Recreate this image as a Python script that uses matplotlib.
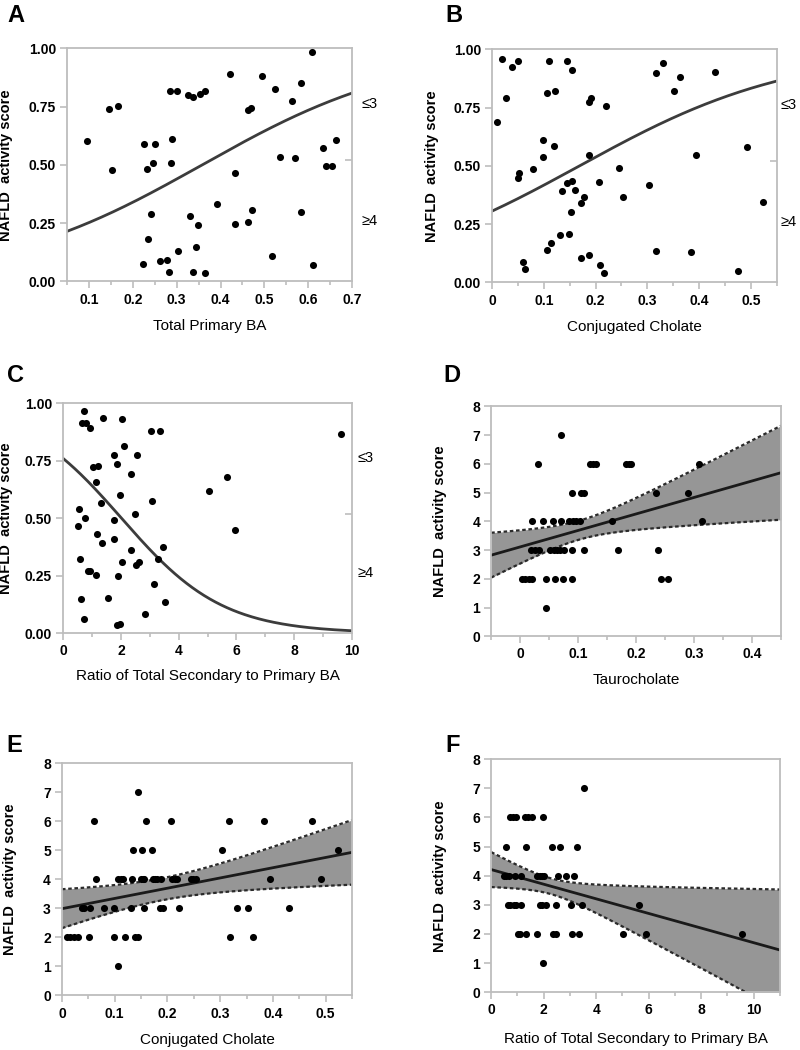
import numpy as np
import matplotlib
matplotlib.use('Agg')
import matplotlib.pyplot as plt
from matplotlib.ticker import MultipleLocator, FuncFormatter

plt.rcParams['font.family'] = ['Liberation Sans', 'DejaVu Sans']

#####################################################################
# data

# A : Total Primary BA (y is the jittered position of each patient)
a_x = [0.096, 0.145, 0.166, 0.152, 0.225, 0.250, 0.231, 0.246, 0.241, 0.235,
       0.222, 0.261, 0.277, 0.283, 0.302, 0.284, 0.300, 0.290, 0.287, 0.325,
       0.337, 0.352, 0.365, 0.330, 0.348, 0.345, 0.336, 0.365, 0.392, 0.422,
       0.433, 0.432, 0.462, 0.470, 0.472, 0.463, 0.494, 0.525, 0.535, 0.518,
       0.564, 0.569, 0.584, 0.583, 0.608, 0.612, 0.633, 0.640, 0.655, 0.664]
a_y = [0.602, 0.741, 0.751, 0.480, 0.589, 0.590, 0.481, 0.506, 0.289, 0.183,
       0.073, 0.087, 0.093, 0.042, 0.130, 0.818, 0.817, 0.610, 0.509, 0.801,
       0.789, 0.804, 0.818, 0.279, 0.244, 0.146, 0.040, 0.036, 0.331, 0.890,
       0.466, 0.248, 0.736, 0.746, 0.305, 0.255, 0.881, 0.827, 0.534, 0.107,
       0.776, 0.531, 0.850, 0.299, 0.983, 0.072, 0.573, 0.494, 0.494, 0.606]
a_fit = (-1.505, 4.203)   # logistic intercept, slope

# B : Conjugated Cholate
b_x = [0.010, 0.019, 0.028, 0.039, 0.051, 0.050, 0.053, 0.060, 0.064, 0.080,
       0.098, 0.098, 0.107, 0.107, 0.114, 0.119, 0.111, 0.145, 0.154, 0.121,
       0.135, 0.132, 0.144, 0.155, 0.149, 0.152, 0.160, 0.171, 0.177, 0.172,
       0.187, 0.188, 0.192, 0.188, 0.207, 0.208, 0.217, 0.221, 0.245, 0.253,
       0.304, 0.317, 0.330, 0.317, 0.352, 0.364, 0.384, 0.393, 0.430, 0.476,
       0.492, 0.523]
b_y = [0.690, 0.957, 0.793, 0.924, 0.951, 0.448, 0.469, 0.088, 0.057, 0.488,
       0.611, 0.539, 0.811, 0.141, 0.171, 0.585, 0.951, 0.951, 0.911, 0.822,
       0.392, 0.204, 0.428, 0.436, 0.208, 0.304, 0.395, 0.341, 0.367, 0.103,
       0.119, 0.772, 0.793, 0.547, 0.429, 0.075, 0.039, 0.755, 0.491, 0.366,
       0.416, 0.900, 0.940, 0.133, 0.822, 0.880, 0.132, 0.547, 0.902, 0.047,
       0.580, 0.344]
b_fit = (-0.819, 4.85)

# C : Ratio of Total Secondary to Primary BA
c_x = [0.72, 0.64, 0.78, 0.92, 1.38, 2.05, 3.04, 3.36, 9.61, 2.09,
       1.76, 2.54, 1.86, 1.04, 1.20, 2.36, 5.67, 1.13, 5.05, 1.98,
       3.08, 1.32, 0.56, 2.49, 0.77, 1.75, 0.52, 5.94, 1.17, 1.75,
       1.33, 3.45, 2.35, 3.27, 0.59, 2.05, 2.62, 2.53, 0.87, 0.94,
       1.14, 1.91, 3.16, 0.63, 1.54, 3.52, 0.72, 2.83, 1.88, 1.98]
c_y = [0.964, 0.916, 0.913, 0.893, 0.935, 0.932, 0.879, 0.877, 0.867, 0.812,
       0.776, 0.773, 0.734, 0.724, 0.727, 0.692, 0.679, 0.659, 0.617, 0.600,
       0.575, 0.565, 0.538, 0.517, 0.501, 0.494, 0.467, 0.449, 0.431, 0.410,
       0.390, 0.374, 0.361, 0.324, 0.324, 0.308, 0.308, 0.296, 0.272, 0.272,
       0.253, 0.249, 0.214, 0.149, 0.155, 0.136, 0.061, 0.084, 0.036, 0.040]
c_fit = (1.15, -0.57)

# category split on the right axis of A-C
nas_split = 0.52
nas_groups = ['\u22643', '\u22654']
nas_group_pos = [0.76, 0.26]

# D : Taurocholate vs NAS
d_x = [0.070,
       0.031, 0.121, 0.125, 0.130, 0.183, 0.188, 0.191, 0.308,
       0.089, 0.104, 0.110, 0.235, 0.290,
       0.020, 0.040, 0.056, 0.071, 0.085, 0.091, 0.097, 0.103, 0.158, 0.313,
       0.019, 0.025, 0.032, 0.052, 0.058, 0.063, 0.069, 0.075, 0.089, 0.110, 0.169, 0.237,
       0.003, 0.009, 0.015, 0.021, 0.045, 0.060, 0.074, 0.089, 0.242, 0.255,
       0.045]
d_nas = [7,
         6, 6, 6, 6, 6, 6, 6, 6,
         5, 5, 5, 5, 5,
         4, 4, 4, 4, 4, 4, 4, 4, 4, 4,
         3, 3, 3, 3, 3, 3, 3, 3, 3, 3, 3, 3,
         2, 2, 2, 2, 2, 2, 2, 2, 2, 2,
         1]
d_line = (3.11, 5.74)             # intercept, slope
d_ci = (0.103, 0.33, 4.62)        # centre x, narrowest half width, spread

# E : Conjugated Cholate vs NAS
e_x = [0.144,
       0.061, 0.160, 0.207, 0.317, 0.384, 0.474,
       0.135, 0.152, 0.171, 0.304, 0.523,
       0.065, 0.106, 0.112, 0.116, 0.133, 0.149, 0.154, 0.156, 0.173, 0.177,
       0.180, 0.188, 0.208, 0.214, 0.218, 0.245, 0.248, 0.255, 0.394, 0.492,
       0.038, 0.041, 0.054, 0.080, 0.098, 0.131, 0.155, 0.186, 0.192, 0.221,
       0.331, 0.352, 0.430,
       0.009, 0.016, 0.023, 0.030, 0.051, 0.098, 0.120, 0.139, 0.145, 0.318, 0.363,
       0.107]
e_nas = [7,
         6, 6, 6, 6, 6, 6,
         5, 5, 5, 5, 5,
         4, 4, 4, 4, 4, 4, 4, 4, 4, 4,
         4, 4, 4, 4, 4, 4, 4, 4, 4, 4,
         3, 3, 3, 3, 3, 3, 3, 3, 3, 3,
         3, 3, 3,
         2, 2, 2, 2, 2, 2, 2, 2, 2, 2, 2,
         1]
e_line = (2.99, 3.53)
e_ci = (0.19, 0.38, 2.91)

# F : Ratio of Total Secondary to Primary BA vs NAS
f_x = [3.52,
       0.73, 0.83, 0.93, 1.30, 1.42, 1.55, 1.99,
       0.58, 1.32, 2.32, 2.62, 3.25,
       0.50, 0.58, 0.67, 0.92, 1.15, 1.74, 1.84, 1.93, 2.02, 2.53, 2.84, 3.15,
       0.63, 0.73, 0.86, 0.96, 1.13, 1.84, 1.93, 2.08, 2.45, 3.03, 3.44, 5.62,
       1.01, 1.11, 1.34, 1.74, 2.35, 2.47, 3.06, 3.34, 5.02, 5.90, 9.57,
       1.99]
f_nas = [7,
         6, 6, 6, 6, 6, 6, 6,
         5, 5, 5, 5, 5,
         4, 4, 4, 4, 4, 4, 4, 4, 4, 4, 4, 4,
         3, 3, 3, 3, 3, 3, 3, 3, 3, 3, 3, 3,
         2, 2, 2, 2, 2, 2, 2, 2, 2, 2, 2,
         1]
f_line = (4.21, -0.251)
f_ci = (2.27, 0.27, 0.236)

#####################################################################

grey = '#bdbdbd'
ylab = 'NAFLD  activity score'

fig = plt.figure(figsize=(8, 10.5), dpi=100)


def tick_fmt(v, pos):
    if abs(v) < 1e-9:
        return '0'
    return '%g' % round(v, 6)


def base_axes(rect, xlim, ylim, xmajor, xminor, ymajor, yfmt, letter,
              letter_xy, xlabel, xlab_y, ylab_x):
    ax = fig.add_axes(rect)
    ax.set_xlim(*xlim)
    ax.set_ylim(*ylim)
    ax.xaxis.set_major_locator(MultipleLocator(xmajor))
    ax.xaxis.set_minor_locator(MultipleLocator(xminor))
    ax.yaxis.set_major_locator(MultipleLocator(ymajor))
    ax.xaxis.set_major_formatter(FuncFormatter(tick_fmt))
    ax.yaxis.set_major_formatter(FuncFormatter(lambda v, p: yfmt % v))
    for s in ax.spines.values():
        s.set_color(grey)
        s.set_linewidth(1.3)
    ax.tick_params(which='both', direction='out', color=grey, width=1.2,
                   labelsize=10, labelcolor='black', pad=3)
    ax.tick_params(which='major', length=5)
    ax.tick_params(which='minor', length=3)
    for t in ax.get_xticklabels() + ax.get_yticklabels():
        t.set_fontweight('bold')
    ax.set_xlabel(xlabel, fontsize=11)
    ax.xaxis.set_label_coords(0.5, xlab_y)
    ax.set_ylabel(ylab, fontsize=10.5, fontweight='bold')
    ax.yaxis.set_label_coords(ylab_x, 0.5)
    # panel letter, placed in figure pixels
    fig.text(letter_xy[0] / 800, 1 - letter_xy[1] / 1050, letter,
             fontsize=17, fontweight='bold', va='center', ha='left')
    return ax


def logistic_panel(rect, x, y, fit, xlim, xmajor, xminor, letter, letter_xy,
                   xlabel, xlab_y, ylab_x, cat_x):
    ax = base_axes(rect, xlim, (0, 1), xmajor, xminor, 0.25, '%.2f', letter,
                   letter_xy, xlabel, xlab_y, ylab_x)
    ax.scatter(x, y, s=26, color='black', zorder=3, linewidths=0)
    xs = np.linspace(xlim[0], xlim[1], 200)
    ax.plot(xs, 1.0 / (1.0 + np.exp(-(fit[0] + fit[1] * xs))),
            color='#3c3c3c', lw=2.0, zorder=2)
    # right hand category axis
    ax.plot([xlim[1]], [nas_split], marker=0, color=grey, markersize=5,
            mew=1.2, clip_on=False)
    for g, p in zip(nas_groups, nas_group_pos):
        ax.text(cat_x, p, g, transform=ax.get_yaxis_transform(),
                fontsize=10.5, va='center', ha='left')
    return ax


def regression_panel(rect, x, nas, line, ci, xlim, xmajor, xminor, letter,
                     letter_xy, xlabel, xlab_y, ylab_x):
    ax = base_axes(rect, xlim, (0, 8), xmajor, xminor, 1, '%d', letter,
                   letter_xy, xlabel, xlab_y, ylab_x)
    xs = np.linspace(xlim[0], xlim[1], 200)
    fit = line[0] + line[1] * xs
    hw = np.sqrt(ci[1] ** 2 + (ci[2] * (xs - ci[0])) ** 2)
    ax.fill_between(xs, fit - hw, fit + hw, color='#969696', lw=0, zorder=1)
    ax.plot(xs, fit + hw, color='#2a2a2a', lw=1.6, ls=(0, (1.6, 1.2)), zorder=2)
    ax.plot(xs, fit - hw, color='#2a2a2a', lw=1.6, ls=(0, (1.6, 1.2)), zorder=2)
    ax.plot(xs, fit, color='#1a1a1a', lw=2.0, zorder=2)
    ax.scatter(x, nas, s=26, color='black', zorder=3, linewidths=0)
    return ax


logistic_panel([0.084, 0.732, 0.356, 0.222], a_x, a_y, a_fit, (0.05, 0.7),
               0.1, 0.05, 'A', (7, 15), 'Total Primary BA', -0.16, -0.19, 1.035)
logistic_panel([0.615, 0.731, 0.356, 0.222], b_x, b_y, b_fit, (0, 0.55),
               0.1, 0.05, 'B', (445, 15), 'Conjugated Cholate', -0.16, -0.186,
               1.012)
logistic_panel([0.079, 0.397, 0.361, 0.219], c_x, c_y, c_fit, (0, 10),
               2, 1, 'C', (7, 375), 'Ratio of Total Secondary to Primary BA',
               -0.155, -0.173, 1.02)
regression_panel([0.614, 0.394, 0.3625, 0.219], d_x, d_nas, d_line, d_ci,
                 (-0.05, 0.45), 0.1, 0.05, 'D', (443, 375), 'Taurocholate',
                 -0.16, -0.152)
regression_panel([0.0775, 0.052, 0.3625, 0.221], e_x, e_nas, e_line, e_ci,
                 (0, 0.55), 0.1, 0.05, 'E', (6, 745), 'Conjugated Cholate',
                 -0.16, -0.155)
regression_panel([0.614, 0.055, 0.361, 0.222], f_x, f_nas, f_line, f_ci,
                 (0, 11), 2, 1, 'F', (445, 745),
                 'Ratio of Total Secondary to Primary BA', -0.172, -0.152)

fig.savefig('out.png', dpi=100)
